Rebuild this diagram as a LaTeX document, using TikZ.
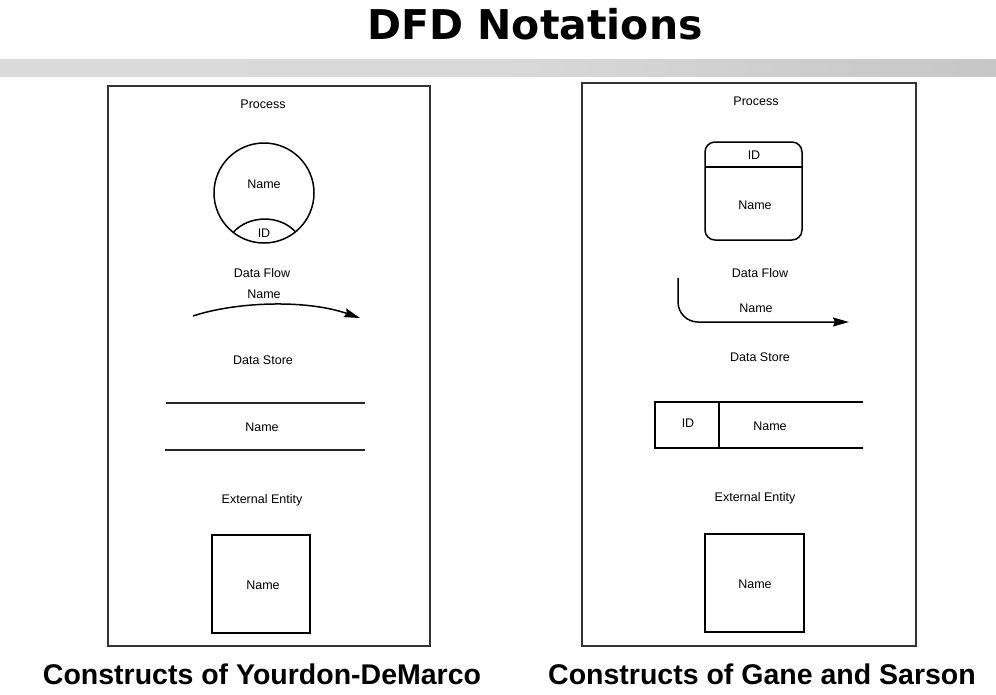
\documentclass[tikz,border=0pt]{standalone}
\usepackage{fontspec}
\setmainfont{Liberation Sans}
\newfontfamily\titlefont{DejaVu Sans}
\usetikzlibrary{arrows.meta}
\definecolor{bandL}{HTML}{DADADA}
\definecolor{bandR}{HTML}{C6C6C6}
\definecolor{framec}{HTML}{333333}
\begin{document}
\begin{tikzpicture}[x=1pt,y=-1pt,
  lbl/.style={font=\fontsize{12.5}{14}\selectfont, inner sep=0pt, outer sep=0pt},
  shp/.style={draw=black, line width=1.5pt, inner sep=0pt, outer sep=0pt},
  frm/.style={draw=framec, line width=1.8pt},
  storeline/.style={line width=2pt, draw=black!85},
  flowarrow/.style={line width=1.5pt, -{Stealth[length=16pt,width=9pt,inset=2pt]}},
  captext/.style={font=\bfseries\fontsize{28.5}{32}\selectfont, inner sep=0pt, anchor=base}
]
\useasboundingbox (0,0) rectangle (996,694);
\fill[white] (0,0) rectangle (996,694);

% title and band
\node[font=\titlefont\bfseries\fontsize{41}{46}\selectfont, inner sep=0pt, anchor=base] (title) at (535,39) {DFD Notations};
\shade[left color=bandL, right color=bandR, middle color=bandL!95!bandR] (0,59) rectangle (996,76);

% frames
\draw[frm] (108,86) rectangle (430,646);
\draw[frm] (582,83) rectangle (916,646);

% captions
\node[captext] (capL) at (262,684) {Constructs of Yourdon-DeMarco};
\node[captext] (capR) at (762,684) {Constructs of Gane and Sarson};

% ---------- Left: Yourdon-DeMarco ----------
\node[lbl] (lproc) at (263,104) {Process};
\node[shp, circle, minimum size=100pt] (pc) at (264,193) {};
\node[lbl] (pcname) at (264,184) {Name};
\draw[line width=1.5pt] (pc.-128.7) .. controls (249,214.7) and (280,214.7) .. (pc.-51.3);
\node[lbl] (pcid) at (264,233) {ID};

\node[lbl] (lflow) at (262,273) {Data Flow};
\node[lbl] (lflowname) at (264,294) {Name};
\coordinate (dfa) at (193,316);
\coordinate (dfb) at (360,318);
\draw[flowarrow] (dfa) .. controls (235,302) and (305,299) .. (dfb);

\node[lbl] (lstore) at (263,360) {Data Store};
\coordinate (ls1a) at (166,403); \coordinate (ls1b) at (365,403);
\coordinate (ls2a) at (165,450); \coordinate (ls2b) at (365,450);
\draw[storeline] (ls1a) -- (ls1b);
\draw[storeline] (ls2a) -- (ls2b);
\node[lbl] (lstorename) at (262,427) {Name};

\node[lbl] (lent) at (262,500) {External Entity};
\node[shp, minimum width=98pt, minimum height=98pt] (lsq) at (261,584) {};
\node[lbl] (lsqname) at (263,585) {Name};

% ---------- Right: Gane and Sarson ----------
\node[lbl] (rproc) at (756,101) {Process};
\node[shp, rounded corners=10pt, minimum width=97pt, minimum height=98pt] (rp) at (753.5,191) {};
\draw[line width=1.5pt] (rp.west |- 0,167) -- (rp.east |- 0,167);
\node[lbl] (rpid) at (754,155) {ID};
\node[lbl] (rpname) at (755,205) {Name};

\node[lbl] (rflow) at (760,273) {Data Flow};
\node[lbl] (rflowname) at (756,308) {Name};
\coordinate (rfa) at (678,278);
\coordinate (rfb) at (849,322);
\draw[flowarrow, rounded corners=20pt] (rfa) |- (rfb);

\node[lbl] (rstore) at (760,357) {Data Store};
\coordinate (rsa) at (863,402); \coordinate (rsb) at (655,402);
\coordinate (rsc) at (655,448); \coordinate (rsd) at (863,448);
\draw[line width=1.5pt] (rsa) -- (rsb) -- (rsc) -- (rsd);
\coordinate (rse) at (719,402); \coordinate (rsf) at (719,448);
\draw[line width=1.5pt] (rse) -- (rsf);
\node[lbl] (rsid) at (688,423) {ID};
\node[lbl] (rsname) at (770,426) {Name};

\node[lbl] (rent) at (755,498) {External Entity};
\node[shp, minimum width=99pt, minimum height=98pt] (rsq) at (754.5,583) {};
\node[lbl] (rsqname) at (755,584) {Name};
\end{tikzpicture}
\end{document}
